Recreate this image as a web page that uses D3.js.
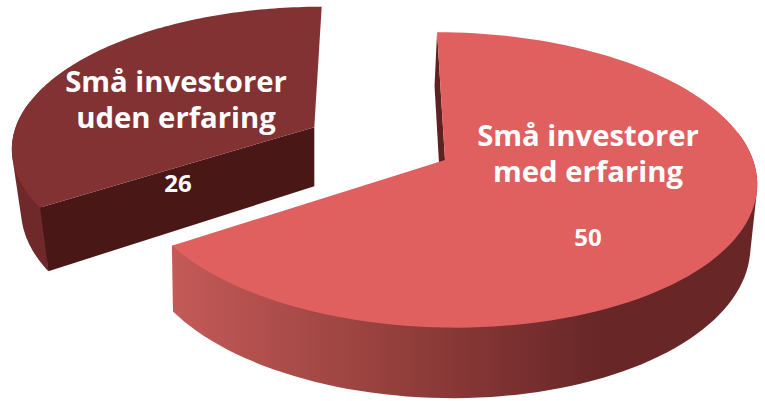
<!DOCTYPE html>
<html>
<head>
<meta charset="utf-8">
<script src="https://cdn.jsdelivr.net/npm/d3@7"></script>
<style>
  html, body { margin: 0; padding: 0; background: #fff; }
  text { font-family: "Open Sans", sans-serif; fill: #fff; text-anchor: middle; }
</style>
</head>
<body>
<div id="chart"></div>
<script>
// Data
const categories = [['Små investorer', 'med erfaring'], ['Små investorer', 'uden erfaring']];
const values = [50, 26];
const exploded = [0, 0.49];

const width = 765, height = 401;

// Slice styling, in the order of the data
const topColors = ['#E05F5F', '#833234'];
const cutColors = ['#5E2021', '#4A1717'];
const wallColors = ['url(#wall-big)', '#70292B'];

// Label anchors (name line 1, name line 2, value)
const labelPos = [
    { x: 588, y1: 146, y2: 182, vy: 246 },
    { x: 176, y1: 92, y2: 128, vy: 192 }
];

// Perspective projection of the unit pie plane onto the page
const apex = { x: 445, y: 160 };
const persp = { a: 308, b: 145, k: 0.135, shear: 9, depth: 61 };
// Where the lower rim pulls in towards, per slice
const nadirX = [250, 315];
const converge = [0.0135, 0.03];

function project(mx, my, lower, i) {
    const w = 1 - persp.k * my;
    let x = apex.x + (persp.a * mx + persp.shear * my) / w;
    let y = apex.y + persp.b * my / w;
    if (lower) {
        x += (nadirX[i] - x) * converge[i];
        y += persp.depth / w;
    }
    return [x, y];
}

const pieLayout = d3.pie().sort(null).value(d => d)(values);

const svg = d3.select('#chart').append('svg')
    .attr('width', width)
    .attr('height', height)
    .style('display', 'block');

// Side wall shading runs from lit on the left to dark on the right
const grad = svg.append('defs').append('linearGradient')
    .attr('id', 'wall-big')
    .attr('gradientUnits', 'userSpaceOnUse')
    .attr('x1', 174).attr('x2', 600)
    .attr('y1', 0).attr('y2', 0);
grad.append('stop').attr('offset', '0%').attr('stop-color', '#C35A58');
grad.append('stop').attr('offset', '50%').attr('stop-color', '#96403D');
grad.append('stop').attr('offset', '100%').attr('stop-color', '#682627');

const line = d3.line();

pieLayout.forEach((slice, i) => {
    const mid = (slice.startAngle + slice.endAngle) / 2;
    const ox = exploded[i] * Math.sin(mid);
    const oy = -exploded[i] * Math.cos(mid);

    const rim = (t, lower) => project(ox + Math.sin(t), oy - Math.cos(t), lower, i);
    const centre = lower => project(ox, oy, lower, i);
    const angles = d3.range(0, 121).map(n => slice.startAngle + (slice.endAngle - slice.startAngle) * n / 120);

    const g = svg.append('g');

    // outer wall, only the part of the rim turned to the viewer; hull keeps the silhouette tangent
    const front = angles.filter(t => Math.cos(t) < 0.2);
    const wall = d3.polygonHull(front.map(t => rim(t, false)).concat(front.map(t => rim(t, true))));
    g.append('path').attr('d', line(wall) + 'Z').attr('fill', wallColors[i]);

    // only the start cut face looks towards the viewer
    const face = [centre(false), rim(slice.startAngle, false), rim(slice.startAngle, true), centre(true)];
    g.append('path').attr('d', line(face) + 'Z').attr('fill', cutColors[i]);

    // top face
    const top = [centre(false)].concat(angles.map(t => rim(t, false)));
    g.append('path').attr('d', line(top) + 'Z').attr('fill', topColors[i]);
});

categories.forEach((name, i) => {
    const p = labelPos[i];
    const label = svg.append('text').attr('font-size', 29.3).attr('font-weight', 700);
    label.append('tspan').attr('x', p.x).attr('y', p.y1).text(name[0]);
    label.append('tspan').attr('x', p.x).attr('y', p.y2).text(name[1]);
    svg.append('text').attr('x', p.x + (i ? 2 : 0)).attr('y', p.vy).attr('font-size', 24).attr('font-weight', 700).text(values[i]);
});
</script>
</body>
</html>
